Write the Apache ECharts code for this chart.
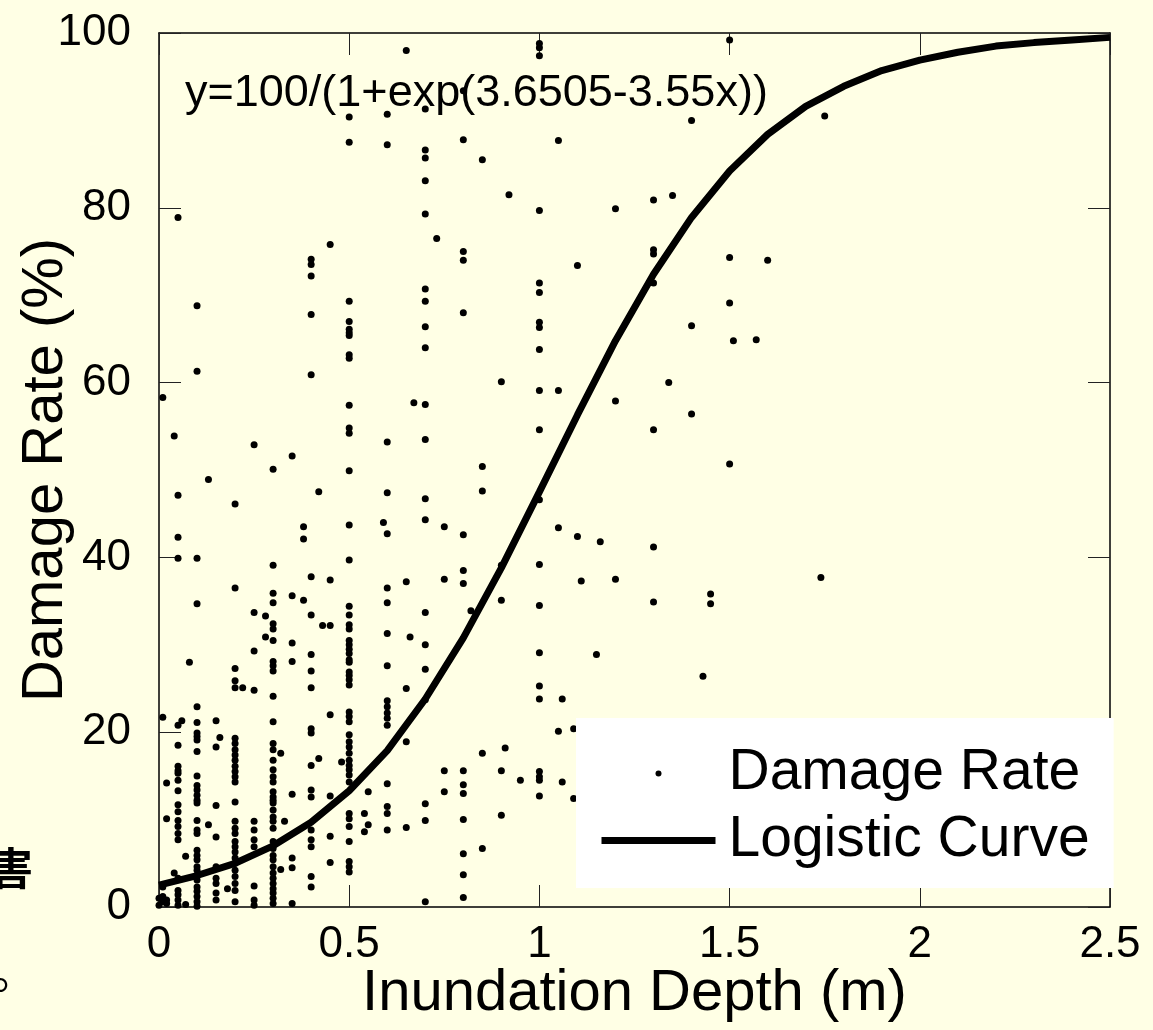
<!DOCTYPE html>
<html>
<head>
<meta charset="utf-8">
<title>Damage Rate vs Inundation Depth</title>
<script src="https://cdn.jsdelivr.net/npm/echarts@6/dist/echarts.min.js"></script>
<style>
  html, body { margin: 0; padding: 0; background: #FFFFE5; }
  #chart { width: 1153px; height: 1030px; }
</style>
</head>
<body>
<div id="chart"></div>
<script>
// Observed damage rates (%) grouped by inundation depth (m)
const obsDepths = [
  0, 0.01, 0.02, 0.04, 0.05, 0.06, 0.07, 0.08, 0.10, 0.13, 0.15, 0.16, 0.18, 0.20, 0.22,
  0.25, 0.28, 0.30, 0.32, 0.33, 0.35, 0.38, 0.40, 0.42, 0.43, 0.45, 0.48, 0.50, 0.54, 0.55,
  0.59, 0.60, 0.65, 0.66, 0.67, 0.70, 0.73, 0.75, 0.80, 0.82, 0.85, 0.90, 0.91, 0.92, 0.95,
  1.00, 1.05, 1.06, 1.09, 1.10, 1.11, 1.15, 1.16, 1.20, 1.30, 1.34, 1.35, 1.40, 1.43, 1.45,
  1.50, 1.51, 1.57, 1.60, 1.74, 1.75
];
const obsRates = [
  [1.0, 0.2],
  [58.3, 21.7, 2.3, 1.2, 0.6],
  [14.2, 10.1, 0.8, 0.4],
  [53.9, 3.9],
  [78.9, 47.1, 42.3, 39.9, 20.8, 18.5, 16.1, 15.6, 15.3, 14.5, 13.3, 11.7, 10.9, 9.9, 9.2, 8.4, 7.7, 3.3, 1.9, 1.4, 0.8, 0.2],
  [21.3],
  [5.8, 0.3],
  [28.0],
  [68.8, 61.3, 39.9, 34.7, 22.9, 21.1, 19.9, 19.5, 19.1, 17.8, 15.0, 13.9, 13.4, 12.8, 12.2, 11.9, 9.9, 8.8, 8.4, 6.5, 5.9, 5.4, 4.6, 4.2, 3.1, 2.3, 1.8, 1.2, 0.6, 0.1],
  [48.9, 9.4],
  [21.3, 18.3, 11.6, 8.0, 4.6, 3.3, 2.7, 1.6, 0.8],
  [19.4],
  [2.1],
  [46.1, 36.5, 27.3, 25.9, 25.1, 19.3, 18.7, 18.0, 17.4, 16.8, 16.1, 15.5, 14.9, 14.3, 12.0, 9.8, 9.0, 8.4, 7.5, 6.9, 6.3, 5.6, 5.0, 4.2, 3.5, 2.7, 1.9, 0.6],
  [25.1],
  [52.9, 33.7, 29.3, 24.8, 9.8, 8.8, 7.7, 6.9, 2.4, 0.8, 0.2],
  [33.3, 30.9],
  [50.1, 39.1, 35.9, 34.8, 32.4, 31.8, 30.5, 28.1, 27.6, 27.0, 24.1, 21.2, 18.7, 18.0, 16.8, 15.7, 14.9, 14.3, 13.2, 12.6, 12.2, 11.9, 11.1, 10.3, 9.8, 9.0, 7.5, 6.7, 5.9, 5.4, 4.6, 3.9, 3.3, 2.7, 2.1, 1.6, 1.0, 0.4],
  [17.6, 4.3],
  [9.8],
  [51.6, 35.6, 30.2, 28.1, 12.9, 5.6, 4.5, 0.4],
  [43.5, 42.1, 35.1],
  [74.1, 73.5, 72.2, 67.8, 60.9, 37.8, 33.4, 28.9, 27.0, 25.1, 20.4, 19.9, 16.2, 13.4, 12.6, 8.8, 7.7, 6.9, 3.5, 2.3],
  [47.5, 17.0],
  [32.2],
  [75.8, 37.4, 32.2, 22.0, 12.7, 8.1, 5.1],
  [16.6],
  [90.4, 87.5, 69.3, 67.0, 66.1, 65.7, 65.4, 63.2, 62.8, 57.4, 54.8, 54.2, 49.9, 43.7, 39.7, 34.4, 33.4, 32.3, 31.8, 30.5, 30.0, 29.5, 29.0, 28.3, 28.0, 26.9, 26.5, 26.0, 25.4, 22.3, 21.8, 21.2, 19.7, 18.9, 18.3, 17.6, 16.8, 16.2, 15.7, 15.1, 14.3, 10.7, 10.1, 9.2, 7.5, 5.2, 4.6, 4.0],
  [10.7, 8.6],
  [13.2, 9.4],
  [44.0],
  [90.7, 87.2, 53.2, 47.4, 42.7, 36.5, 34.8, 31.3, 27.6, 23.6, 22.9, 22.2, 21.6, 20.8, 14.1, 11.5, 10.7, 8.8],
  [98.0, 37.2, 25.0, 18.9, 9.1],
  [30.9],
  [57.7],
  [91.3, 86.6, 85.7, 83.1, 79.3, 70.7, 69.3, 66.4, 64.0, 57.5, 53.5, 46.7, 44.3, 33.7, 30.0, 27.2, 23.7, 11.8, 9.9, 0.6],
  [76.5],
  [43.5, 37.5, 15.6, 13.2],
  [93.4, 87.8, 75.0, 74.0, 68.0, 42.6, 38.5, 37.0, 15.6, 14.0, 13.0, 10.0, 6.1, 3.7, 1.1],
  [33.9],
  [85.5, 50.4, 47.6, 17.6, 6.7],
  [60.1, 39.1, 35.1, 15.6, 10.5],
  [18.2],
  [81.5],
  [14.5],
  [98.8, 98.3, 97.4, 79.7, 71.4, 70.3, 66.9, 66.3, 63.8, 59.1, 54.6, 46.6, 39.2, 34.5, 29.1, 25.3, 23.8, 15.5, 14.9, 14.5, 12.7],
  [87.7, 59.1, 43.4, 20.1],
  [23.8, 14.3],
  [20.4, 12.4],
  [73.4, 42.4],
  [37.3],
  [28.9],
  [41.8],
  [79.9, 57.9, 37.5],
  [80.9, 75.2, 74.7, 71.4, 54.6, 41.2, 34.9],
  [60.0],
  [81.4],
  [90.0, 66.5, 56.4],
  [26.4],
  [35.8, 34.7],
  [99.2, 74.3, 69.1, 50.7],
  [64.8],
  [64.9],
  [74.0],
  [37.7],
  [90.5]
];

// Fitted logistic curve, sampled every 0.1 m
const curveDepths = [0, 0.1, 0.2, 0.3, 0.4, 0.5, 0.6, 0.7, 0.8, 0.9, 1.0, 1.1, 1.2,
  1.3, 1.4, 1.5, 1.6, 1.7, 1.8, 1.9, 2.0, 2.1, 2.2, 2.3, 2.4, 2.5];
const curveRates = [2.5, 3.6, 5.0, 7.0, 9.7, 13.3, 17.9, 23.8, 30.8, 38.8, 47.5, 56.3, 64.8,
  72.4, 78.9, 84.2, 88.4, 91.6, 93.9, 95.7, 96.9, 97.8, 98.5, 98.9, 99.2, 99.5];

const equationText = 'y=100/(1+exp(3.6505-3.55x))';
const seriesNames = ['Damage Rate', 'Logistic Curve'];
const xTitle = 'Inundation Depth (m)';
const yTitle = 'Damage Rate (%)';

const scatterData = [];
obsDepths.forEach(function (d, i) {
  obsRates[i].forEach(function (r) { scatterData.push([d, r]); });
});
const curveData = curveDepths.map(function (d, i) { return [d, curveRates[i]]; });

const FONT = '"Liberation Sans", Arial, sans-serif';
const axisLine = { show: true, onZero: false, lineStyle: { color: '#000', width: 1.5 } };
const axisTick = { show: true, inside: true, length: 22, lineStyle: { color: '#222', width: 1 } };

const chart = echarts.init(document.getElementById('chart'), null, { renderer: 'canvas' });
chart.setOption({
  backgroundColor: '#FFFFE5',
  animation: false,
  textStyle: { fontFamily: FONT, color: '#000' },
  grid: { left: 159, right: 43, top: 33, bottom: 123, containLabel: false, outerBoundsMode: 'none' },
  xAxis: [
    {
      type: 'value', min: 0, max: 2.5, interval: 0.5, position: 'bottom',
      axisLine: axisLine, axisTick: axisTick, splitLine: { show: false },
      axisLabel: { fontSize: 44, color: '#000', margin: 16, fontFamily: FONT },
      name: xTitle, nameLocation: 'middle', nameGap: 58, nameMoveOverlap: false,
      nameTextStyle: { fontSize: 58, color: '#000', fontFamily: FONT }
    },
    {
      type: 'value', min: 0, max: 2.5, interval: 0.5, position: 'top',
      axisLine: axisLine, axisTick: axisTick, splitLine: { show: false },
      axisLabel: { show: false }
    }
  ],
  yAxis: [
    {
      type: 'value', min: 0, max: 100, interval: 20, position: 'left',
      axisLine: axisLine, axisTick: axisTick, splitLine: { show: false },
      axisLabel: { fontSize: 44, color: '#000', margin: 28, fontFamily: FONT },
      name: yTitle, nameLocation: 'middle', nameGap: 84, nameMoveOverlap: false,
      nameTextStyle: { fontSize: 58, color: '#000', fontFamily: FONT }
    },
    {
      type: 'value', min: 0, max: 100, interval: 20, position: 'right',
      axisLine: axisLine, axisTick: axisTick, splitLine: { show: false },
      axisLabel: { show: false }
    }
  ],
  legend: {
    left: 576, top: 718,
    orient: 'vertical',
    backgroundColor: '#FFFFFF',
    padding: [27, 24, 19, 22],
    itemGap: 10,
    itemWidth: 114, itemHeight: 6,
    textStyle: { fontSize: 57, color: '#000', fontFamily: FONT, padding: [0, 0, 0, 8] },
    lineStyle: { width: 7 },
    data: [
      { name: seriesNames[0], icon: 'circle' },
      { name: seriesNames[1] }
    ]
  },
  graphic: [
    {
      type: 'text', left: 185, top: 71, z: 10,
      style: { text: equationText, font: '45px ' + FONT, fill: '#000' }
    },
    {
      type: 'text', left: -11, top: 846,
      style: { text: '害', font: 'bold 44px "Noto Sans CJK JP"', fill: '#000' }
    },
    {
      type: 'text', left: -8, top: 950,
      style: { text: '。', font: '44px "Noto Sans CJK JP"', fill: '#000' }
    }
  ],
  series: [
    {
      name: seriesNames[0], type: 'scatter',
      xAxisIndex: 0, yAxisIndex: 0,
      symbol: 'circle', symbolSize: 7,
      itemStyle: { color: '#000', opacity: 1 },
      data: scatterData, z: 2
    },
    {
      name: seriesNames[1], type: 'line',
      xAxisIndex: 0, yAxisIndex: 0,
      symbol: 'none', smooth: false,
      lineStyle: { color: '#000', width: 7 },
      itemStyle: { color: '#000' },
      data: curveData, z: 3
    }
  ]
});
</script>
</body>
</html>
